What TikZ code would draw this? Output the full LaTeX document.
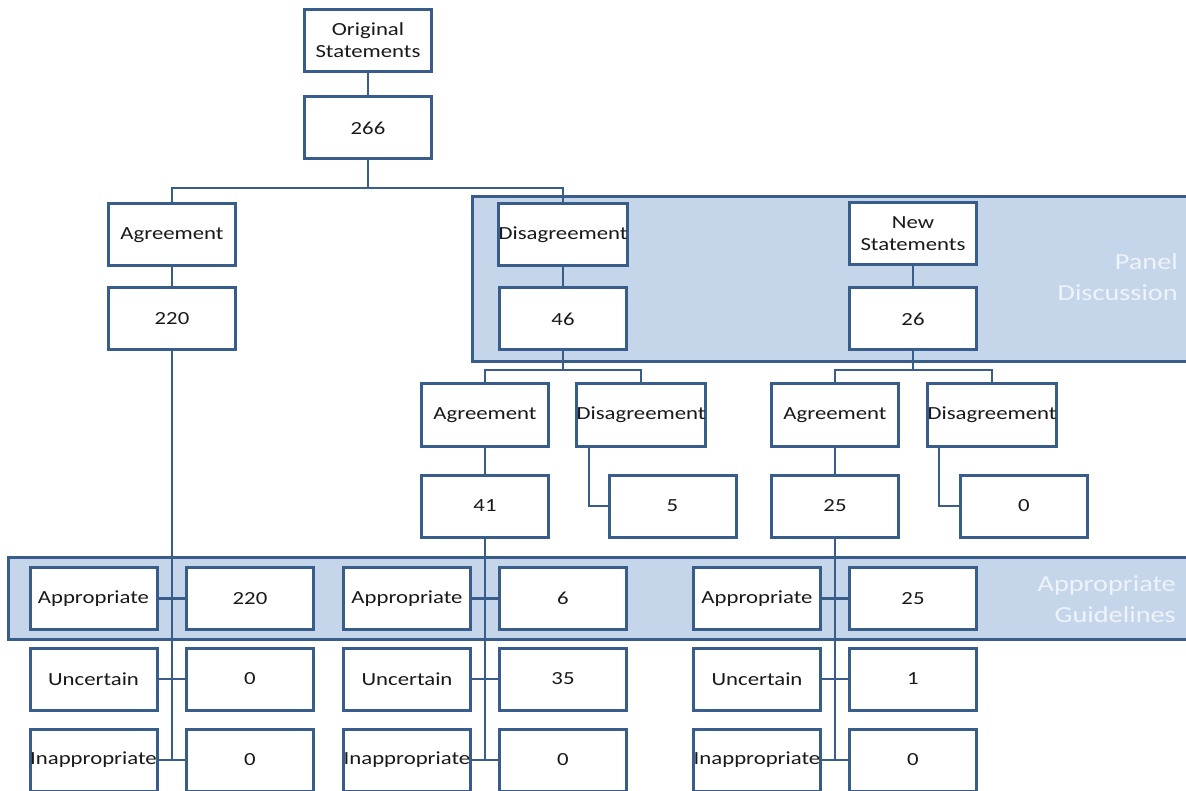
\documentclass[tikz,border=0pt]{standalone}
\usepackage{fontspec}
\setmainfont{Carlito}[FakeStretch=1.23]
\definecolor{edge}{RGB}{56,93,138}
\definecolor{panelfill}{RGB}{198,214,234}
\definecolor{labeltext}{RGB}{238,243,250}
\definecolor{boxtext}{RGB}{25,25,25}
\begin{document}
\begin{tikzpicture}[x=1pt,y=-1pt,
  box/.style={draw=edge, line width=3pt, fill=white, minimum width=127pt, minimum height=62pt,
    inner sep=0pt, text=boxtext, font=\fontsize{18.5}{22}\selectfont, align=center},
  link/.style={draw=edge, line width=2.8pt},
  band/.style={draw=edge, line width=3pt, fill=panelfill},
  bandlabel/.style={text=labeltext, font=\fontsize{23}{31}\selectfont, align=right, inner sep=0pt, anchor=east}]
\useasboundingbox (0,0) rectangle (1186,791);
\clip (0,0) rectangle (1186,791);

% background bands
\path[band] (472,197) rectangle (1200,362);
\path[band] (8,557) rectangle (1200,639);
\node[bandlabel] (panellbl) at (1178,277) {Panel\\Discussion};
\node[bandlabel] (guidelbl) at (1176,599) {Appropriate\\Guidelines};

% top
\node[box] (orig) at (368,40.5) {Original\\Statements};
\node[box] (n266) at (368,128) {266};
% level 1
\node[box] (agA) at (172,235) {Agreement};
\node[box] (n220) at (172,319) {220};
\node[box] (disA) at (563,235) {Disagreement};
\node[box] (n46) at (563,319) {46};
\node[box] (newS) at (913,234) {New\\Statements};
\node[box] (n26) at (913,319) {26};
% level 2
\node[box] (ag2) at (485,415) {Agreement};
\node[box] (dis2) at (641,415) {Disagreement};
\node[box] (n41) at (485,506) {41};
\node[box] (n5) at (672.5,506) {5};
\node[box] (ag3) at (835,415) {Agreement};
\node[box] (dis3) at (992,415) {Disagreement};
\node[box] (n25a) at (835,506) {25};
\node[box] (n0a) at (1024,506) {0};
% bottom group 1
\node[box] (g1a) at (93.5,598.5) {Appropriate};
\node[box] (g1an) at (250,598.5) {220};
\node[box] (g1u) at (93.5,679) {Uncertain};
\node[box] (g1un) at (250,679) {0};
\node[box] (g1i) at (93.5,760) {Inappropriate};
\node[box] (g1in) at (250,760) {0};
% bottom group 2
\node[box] (g2a) at (407,598.5) {Appropriate};
\node[box] (g2an) at (563,598.5) {6};
\node[box] (g2u) at (407,679) {Uncertain};
\node[box] (g2un) at (563,679) {35};
\node[box] (g2i) at (407,760) {Inappropriate};
\node[box] (g2in) at (563,760) {0};
% bottom group 3
\node[box] (g3a) at (757,598.5) {Appropriate};
\node[box] (g3an) at (913,598.5) {25};
\node[box] (g3u) at (757,679) {Uncertain};
\node[box] (g3un) at (913,679) {1};
\node[box] (g3i) at (757,760) {Inappropriate};
\node[box] (g3in) at (913,760) {0};

% junctions
\coordinate (j1) at (368,188);
\coordinate (j2) at (563,370);
\coordinate (j3) at (913,370);
\coordinate (s1) at (172,760);
\coordinate (s2) at (485,760);
\coordinate (s3) at (835,760);

% connectors
\draw[link] (orig) -- (n266);
\draw[link] (n266) -- (j1);
\draw[link] (agA.north) |- (j1);
\draw[link] (disA.north) |- (j1);
\draw[link] (agA) -- (n220);
\draw[link] (disA) -- (n46);
\draw[link] (newS) -- (n26);
\draw[link] (n46) -- (j2);
\draw[link] (ag2.north) |- (j2);
\draw[link] (dis2.north) |- (j2);
\draw[link] (n26) -- (j3);
\draw[link] (ag3.north) |- (j3);
\draw[link] (dis3.north) |- (j3);
\draw[link] (ag2) -- (n41);
\draw[link] (ag3) -- (n25a);
\draw[link] ([xshift=14pt]dis2.south west) |- (n5.west);
\draw[link] ([xshift=13pt]dis3.south west) |- (n0a.west);
\draw[link] (n220) -- (s1);
\draw[link] (n41) -- (s2);
\draw[link] (n25a) -- (s3);
\draw[link] (g1a) -- (g1an);
\draw[link] (g1u) -- (g1un);
\draw[link] (g1i) -- (g1in);
\draw[link] (g2a) -- (g2an);
\draw[link] (g2u) -- (g2un);
\draw[link] (g2i) -- (g2in);
\draw[link] (g3a) -- (g3an);
\draw[link] (g3u) -- (g3un);
\draw[link] (g3i) -- (g3in);
\end{tikzpicture}
\end{document}
